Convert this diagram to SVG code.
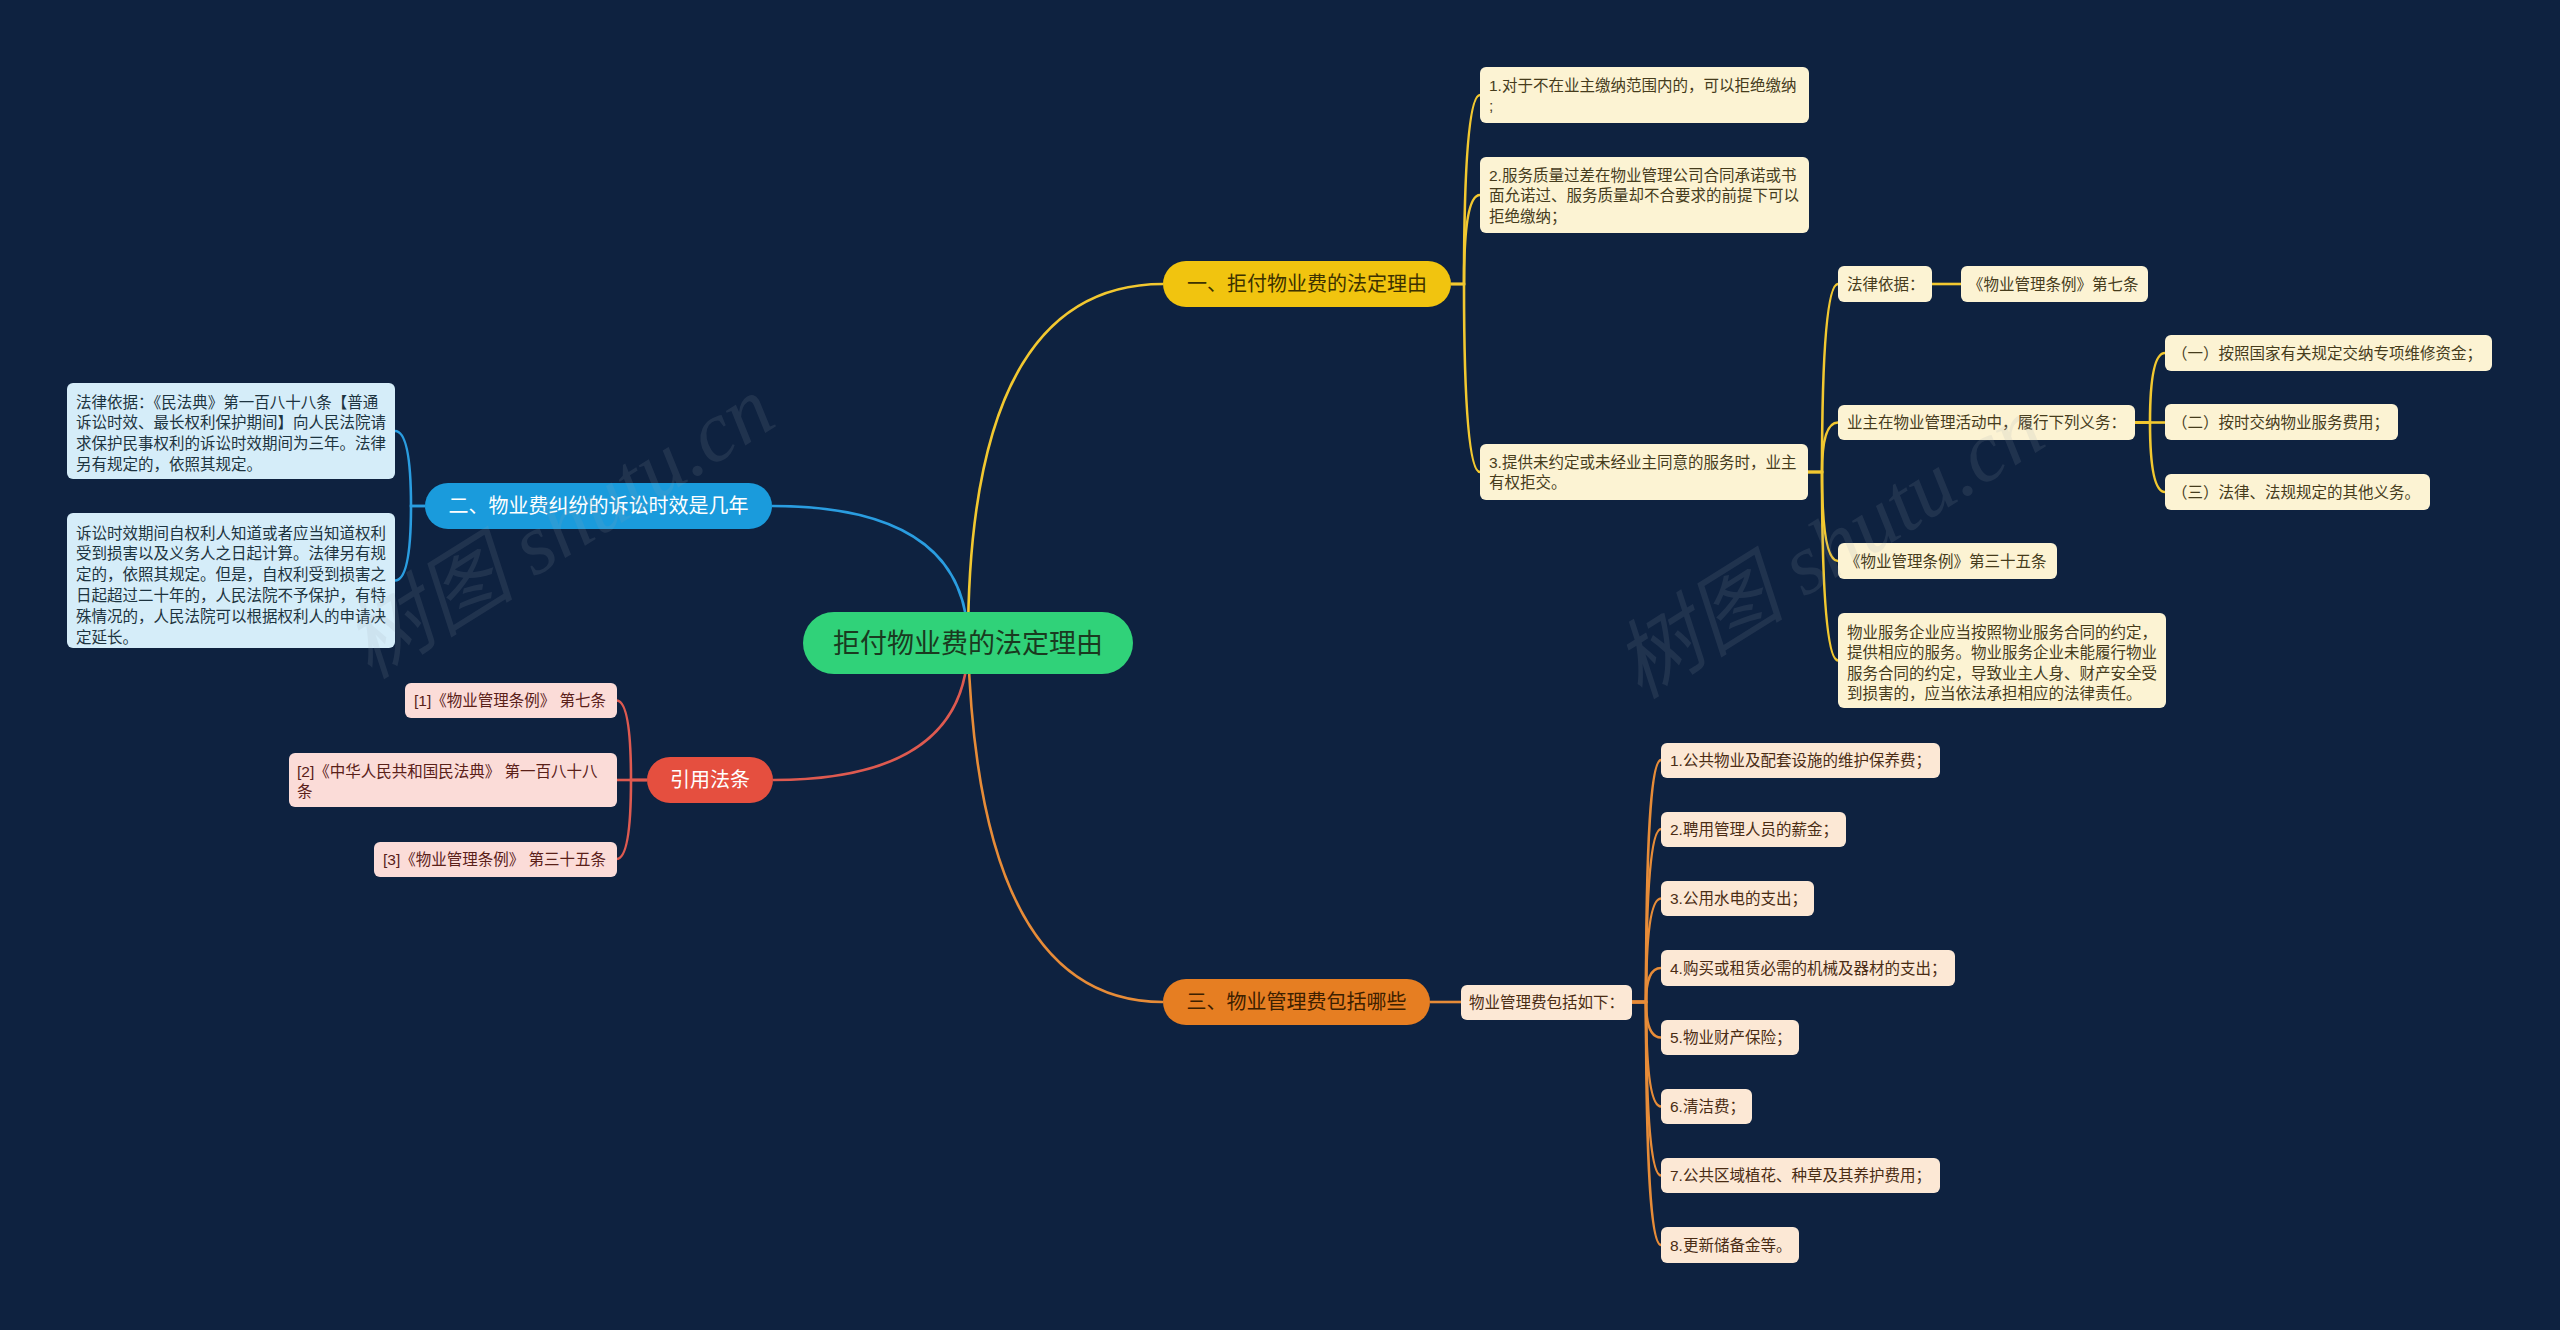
<svg xmlns="http://www.w3.org/2000/svg" width="2560" height="1330" viewBox="0 0 2560 1330">
<style>
text{font-family:'Liberation Sans','Noto Sans CJK SC',sans-serif;}
.t{font-size:15.5px;}
.br{font-size:20px;}
.ny rect{fill:#fcf3d3;}
.ny text{fill:#463c1c;}
.nb rect{fill:#d5edf9;}
.nb text{fill:#1d3440;}
.nr rect{fill:#fbdcd8;}
.nr text{fill:#5a2018;}
.no rect{fill:#fce8d5;}
.no text{fill:#4a2c14;}
.cy{stroke:#f2c830;}
.cb{stroke:#2a9de0;}
.cr{stroke:#de5a50;}
.co{stroke:#e78c38;}
#connectors path{fill:none;stroke-width:2.6;}
.wm{font-family:'Liberation Serif','Noto Sans CJK SC',serif;font-size:86px;font-style:italic;fill:#9aa3b0;opacity:0.13;}
</style>
<rect width="2560" height="1330" fill="#0e2240"/>
<g id="connectors">
  <path class="cy" d="M968 643 Q968 284 1163 284"/>
  <path class="cb" d="M968 643 Q968 506 772 506"/>
  <path class="cr" d="M968 643 Q968 780 773 780"/>
  <path class="co" d="M968 643 Q978 1002 1163 1002"/>
  <path class="cy" d="M1451 284 H1464 Q1464 95 1480 95"/>
  <path class="cy" d="M1451 284 H1464 Q1464 195 1480 195"/>
  <path class="cy" d="M1451 284 H1464 Q1464 472 1480 472"/>
  <path class="cy" d="M1808 472 H1822 Q1822 284 1838 284"/>
  <path class="cy" d="M1808 472 H1822 Q1822 422.5 1838 422.5"/>
  <path class="cy" d="M1808 472 H1822 Q1822 561 1838 561"/>
  <path class="cy" d="M1808 472 H1822 Q1822 660.5 1838 660.5"/>
  <path class="cy" d="M1932 284 H1961"/>
  <path class="cy" d="M2135 422.5 H2150 Q2150 353 2165 353"/>
  <path class="cy" d="M2135 422.5 H2165"/>
  <path class="cy" d="M2135 422.5 H2150 Q2150 492 2165 492"/>
  <path class="cb" d="M425 506 H411 Q411 431 395 431"/>
  <path class="cb" d="M425 506 H411 Q411 580.5 395 580.5"/>
  <path class="cr" d="M647 780 H631 Q631 700.5 616.5 700.5"/>
  <path class="cr" d="M647 780 H616.5"/>
  <path class="cr" d="M647 780 H631 Q631 859 616.5 859"/>
  <path class="co" d="M1430 1002 H1461"/>
  <path class="co" d="M1632 1002 H1646 Q1646 760 1661 760"/>
  <path class="co" d="M1632 1002 H1646 Q1646 829 1661 829"/>
  <path class="co" d="M1632 1002 H1646 Q1646 898.5 1661 898.5"/>
  <path class="co" d="M1632 1002 H1646 Q1646 968 1661 968"/>
  <path class="co" d="M1632 1002 H1646 Q1646 1037.5 1661 1037.5"/>
  <path class="co" d="M1632 1002 H1646 Q1646 1106.5 1661 1106.5"/>
  <path class="co" d="M1632 1002 H1646 Q1646 1175.5 1661 1175.5"/>
  <path class="co" d="M1632 1002 H1646 Q1646 1245 1661 1245"/>
</g>

<g id="root">
  <rect x="803" y="612" width="330" height="62" rx="31" fill="#30d279"/>
  <text x="968" y="652.5" text-anchor="middle" font-size="27" fill="#1a3a20">拒付物业费的法定理由</text>
</g>

<g id="b1">
  <rect x="1163" y="261" width="288" height="46" rx="23" fill="#f1c40f"/>
  <text class="br" x="1307" y="291" text-anchor="middle" fill="#3d3200">一、拒付物业费的法定理由</text>
</g>
<g id="b2">
  <rect x="425" y="483" width="347" height="46" rx="23" fill="#1a9bdc"/>
  <text class="br" x="598.5" y="513" text-anchor="middle" fill="#ffffff">二、物业费纠纷的诉讼时效是几年</text>
</g>
<g id="b3">
  <rect x="647" y="757" width="126" height="46" rx="23" fill="#e54f3f"/>
  <text class="br" x="710" y="787" text-anchor="middle" fill="#ffffff">引用法条</text>
</g>
<g id="b4">
  <rect x="1163" y="979" width="267" height="46" rx="23" fill="#e67e22"/>
  <text class="br" x="1296.5" y="1009" text-anchor="middle" fill="#3d2000">三、物业管理费包括哪些</text>
</g>

<g id="n1-1" class="ny">
  <rect x="1480" y="67" width="329" height="56" rx="6"/>
  <text class="t"><tspan x="1489" y="90.5">1.对于不在业主缴纳范围内的，可以拒绝缴纳</tspan><tspan x="1489" y="111">;</tspan></text>
</g>
<g id="n1-2" class="ny">
  <rect x="1480" y="157" width="329" height="76" rx="6"/>
  <text class="t"><tspan x="1489" y="180.5">2.服务质量过差在物业管理公司合同承诺或书</tspan><tspan x="1489" y="201">面允诺过、服务质量却不合要求的前提下可以</tspan><tspan x="1489" y="221.5">拒绝缴纳；</tspan></text>
</g>
<g id="n1-3" class="ny">
  <rect x="1480" y="444" width="328" height="56" rx="6"/>
  <text class="t"><tspan x="1489" y="467.5">3.提供未约定或未经业主同意的服务时，业主</tspan><tspan x="1489" y="488">有权拒交。</tspan></text>
</g>
<g id="n1-3-1" class="ny">
  <rect x="1838" y="266" width="94" height="36" rx="6"/>
  <text class="t" x="1847" y="289.5">法律依据：</text>
</g>
<g id="n1-3-1-1" class="ny">
  <rect x="1961" y="266" width="187" height="36" rx="6"/>
  <text class="t" x="1968" y="289.5">《物业管理条例》第七条</text>
</g>
<g id="n1-3-2" class="ny">
  <rect x="1838" y="405" width="297" height="35" rx="6"/>
  <text class="t" x="1847" y="428">业主在物业管理活动中，履行下列义务：</text>
</g>
<g id="n1-3-2-1" class="ny">
  <rect x="2165" y="335" width="327" height="36" rx="6"/>
  <text class="t" x="2172" y="358.5">（一）按照国家有关规定交纳专项维修资金；</text>
</g>
<g id="n1-3-2-2" class="ny">
  <rect x="2165" y="404" width="233" height="36" rx="6"/>
  <text class="t" x="2172" y="427.5">（二）按时交纳物业服务费用；</text>
</g>
<g id="n1-3-2-3" class="ny">
  <rect x="2165" y="474" width="265" height="36" rx="6"/>
  <text class="t" x="2172" y="497.5">（三）法律、法规规定的其他义务。</text>
</g>
<g id="n1-3-3" class="ny">
  <rect x="1838" y="543" width="219" height="36" rx="6"/>
  <text class="t" x="1845" y="566.5">《物业管理条例》第三十五条</text>
</g>
<g id="n1-3-4" class="ny">
  <rect x="1838" y="613" width="328" height="95" rx="6"/>
  <text class="t"><tspan x="1847" y="637.5">物业服务企业应当按照物业服务合同的约定，</tspan><tspan x="1847" y="658">提供相应的服务。物业服务企业未能履行物业</tspan><tspan x="1847" y="678.5">服务合同的约定，导致业主人身、财产安全受</tspan><tspan x="1847" y="699">到损害的，应当依法承担相应的法律责任。</tspan></text>
</g>

<g id="n2-1" class="nb">
  <rect x="67" y="383" width="328" height="96" rx="6"/>
  <text class="t"><tspan x="76" y="407.5">法律依据：《民法典》第一百八十八条【普通</tspan><tspan x="76" y="428.2">诉讼时效、最长权利保护期间】向人民法院请</tspan><tspan x="76" y="448.9">求保护民事权利的诉讼时效期间为三年。法律</tspan><tspan x="76" y="469.6">另有规定的，依照其规定。</tspan></text>
</g>
<g id="n2-2" class="nb">
  <rect x="67" y="513" width="328" height="135" rx="6"/>
  <text class="t"><tspan x="76" y="538.5">诉讼时效期间自权利人知道或者应当知道权利</tspan><tspan x="76" y="559.3">受到损害以及义务人之日起计算。法律另有规</tspan><tspan x="76" y="580.1">定的，依照其规定。但是，自权利受到损害之</tspan><tspan x="76" y="600.9">日起超过二十年的，人民法院不予保护，有特</tspan><tspan x="76" y="621.7">殊情况的，人民法院可以根据权利人的申请决</tspan><tspan x="76" y="642.5">定延长。</tspan></text>
</g>

<g id="n3-1" class="nr">
  <rect x="405" y="683" width="212" height="35" rx="6"/>
  <text class="t" x="414" y="706">[1]《物业管理条例》 第七条</text>
</g>
<g id="n3-2" class="nr">
  <rect x="289" y="753" width="328" height="54" rx="6"/>
  <text class="t"><tspan x="297" y="776.5">[2]《中华人民共和国民法典》 第一百八十八</tspan><tspan x="297" y="797">条</tspan></text>
</g>
<g id="n3-3" class="nr">
  <rect x="374" y="842" width="243" height="35" rx="6"/>
  <text class="t" x="383" y="865">[3]《物业管理条例》 第三十五条</text>
</g>

<g id="n4" class="no">
  <rect x="1461" y="985" width="171" height="35" rx="6"/>
  <text class="t" x="1469" y="1008">物业管理费包括如下：</text>
</g>
<g id="n4-1" class="no">
  <rect x="1661" y="743" width="279" height="35" rx="6"/>
  <text class="t" x="1670" y="766">1.公共物业及配套设施的维护保养费；</text>
</g>
<g id="n4-2" class="no">
  <rect x="1661" y="812" width="185" height="35" rx="6"/>
  <text class="t" x="1670" y="835">2.聘用管理人员的薪金；</text>
</g>
<g id="n4-3" class="no">
  <rect x="1661" y="881" width="153" height="35" rx="6"/>
  <text class="t" x="1670" y="904">3.公用水电的支出；</text>
</g>
<g id="n4-4" class="no">
  <rect x="1661" y="950" width="294" height="36" rx="6"/>
  <text class="t" x="1670" y="973.5">4.购买或租赁必需的机械及器材的支出；</text>
</g>
<g id="n4-5" class="no">
  <rect x="1661" y="1020" width="138" height="35" rx="6"/>
  <text class="t" x="1670" y="1043">5.物业财产保险；</text>
</g>
<g id="n4-6" class="no">
  <rect x="1661" y="1089" width="91" height="35" rx="6"/>
  <text class="t" x="1670" y="1112">6.清洁费；</text>
</g>
<g id="n4-7" class="no">
  <rect x="1661" y="1158" width="279" height="35" rx="6"/>
  <text class="t" x="1670" y="1181">7.公共区域植花、种草及其养护费用；</text>
</g>
<g id="n4-8" class="no">
  <rect x="1661" y="1227" width="138" height="36" rx="6"/>
  <text class="t" x="1670" y="1250.5">8.更新储备金等。</text>
</g>

<g id="watermark">
  <text class="wm" transform="translate(370 680) rotate(-32)">树图 shutu.cn</text>
  <text class="wm" transform="translate(1640 700) rotate(-32)">树图 shutu.cn</text>
</g>
</svg>
